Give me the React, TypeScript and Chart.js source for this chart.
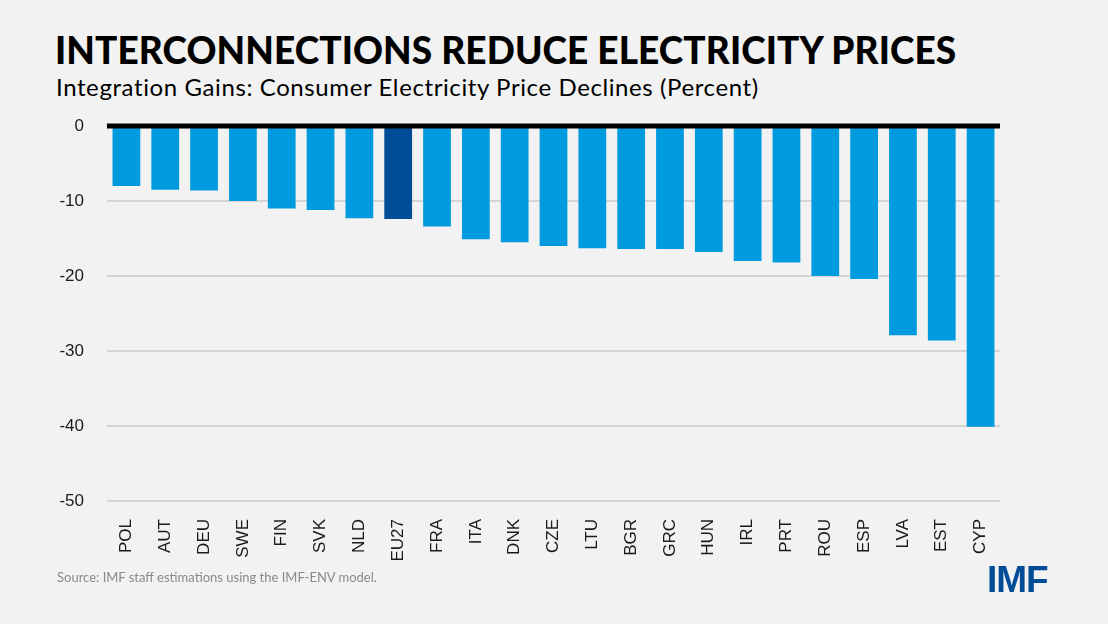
import React, { useEffect, useRef } from "react";
import { Chart, registerables } from "chart.js";

Chart.register(...registerables);

const countries = [
  "POL", "AUT", "DEU", "SWE", "FIN", "SVK", "NLD", "EU27", "FRA", "ITA", "DNK", "CZE",
  "LTU", "BGR", "GRC", "HUN", "IRL", "PRT", "ROU", "ESP", "LVA", "EST", "CYP",
];

const priceDecline = [
  -8.0, -8.5, -8.6, -10.0, -11.0, -11.2, -12.3, -12.4, -13.4, -15.1, -15.5, -16.0,
  -16.3, -16.4, -16.4, -16.8, -18.0, -18.2, -20.0, -20.4, -27.9, -28.6, -40.1,
];

const highlighted = ["EU27"];

const yTicks = [0, -10, -20, -30, -40, -50];

const BAR_BLUE = "#009bde";
const DARK_BLUE = "#004c97";

// Heavy black baseline at zero, drawn over the bars
const zeroLine = {
  id: "zeroLine",
  afterDatasetsDraw(chart: any) {
    const { ctx, chartArea, scales } = chart;
    const y = scales.y.getPixelForValue(0);
    ctx.save();
    ctx.strokeStyle = "#000";
    ctx.lineWidth = 5;
    ctx.beginPath();
    ctx.moveTo(chartArea.left, y);
    ctx.lineTo(chartArea.right, y);
    ctx.stroke();
    ctx.restore();
  },
};

export default function App() {
  const canvasRef = useRef<HTMLCanvasElement | null>(null);

  useEffect(() => {
    const canvas = canvasRef.current;
    if (!canvas) return;
    const chart = new Chart(canvas, {
      type: "bar",
      data: {
        labels: countries,
        datasets: [
          {
            data: priceDecline,
            backgroundColor: countries.map((c) => (highlighted.includes(c) ? DARK_BLUE : BAR_BLUE)),
            borderWidth: 0,
            barPercentage: 0.715,
            categoryPercentage: 1,
          },
        ],
      },
      options: {
        responsive: false,
        animation: false,
        devicePixelRatio: 1,
        layout: { padding: { top: 126, right: 108, left: 0, bottom: 0 } },
        plugins: {
          legend: { display: false },
          tooltip: { enabled: false },
        },
        scales: {
          x: {
            grid: { display: false },
            border: { display: false },
            ticks: {
              minRotation: 90,
              maxRotation: 90,
              autoSkip: false,
              padding: 10,
              color: "#1a1a1a",
              font: { family: "'Liberation Sans', Arial, sans-serif", size: 17 },
            },
            afterFit(scale: any) {
              scale.height = 123;
            },
          },
          y: {
            min: -50,
            max: 0,
            afterBuildTicks(scale: any) {
              scale.ticks = yTicks.map((v) => ({ value: v }));
            },
            grid: {
              drawTicks: false,
              lineWidth: 2,
              color: (ctx: any) => (ctx.tick && ctx.tick.value === 0 ? "rgba(0,0,0,0)" : "#d4d4d4"),
            },
            border: { display: false },
            ticks: {
              padding: 23,
              color: "#1a1a1a",
              font: { family: "'Liberation Sans', Arial, sans-serif", size: 17 },
              callback: (v: any) => String(v),
            },
            afterFit(scale: any) {
              scale.width = 107;
            },
          },
        },
      },
      plugins: [zeroLine],
    });
    return () => chart.destroy();
  }, []);

  return (
    <div
      style={{
        position: "fixed",
        left: 0,
        top: 0,
        width: 1108,
        height: 624,
        background: "#f2f2f2",
        overflow: "hidden",
      }}
    >
      <div
        style={{
          position: "absolute",
          left: 55,
          top: 31,
          fontFamily: "Lato, 'Open Sans', sans-serif",
          fontWeight: 900,
          fontSize: 37,
          lineHeight: 1,
          letterSpacing: 0.1,
          color: "#000",
          whiteSpace: "nowrap",
        }}
      >
        INTERCONNECTIONS REDUCE ELECTRICITY PRICES
      </div>
      <div
        style={{
          position: "absolute",
          left: 56,
          top: 75,
          fontFamily: "Lato, 'Open Sans', sans-serif",
          fontWeight: 400,
          fontSize: 24,
          lineHeight: 1,
          letterSpacing: 0.6,
          color: "#000",
          whiteSpace: "nowrap",
        }}
      >
        Integration Gains: Consumer Electricity Price Declines (Percent)
      </div>
      <canvas
        ref={canvasRef}
        width={1108}
        height={624}
        style={{ position: "absolute", left: 0, top: 0, width: 1108, height: 624 }}
      />
      <div
        style={{
          position: "absolute",
          left: 57,
          top: 571,
          fontFamily: "Lato, 'Open Sans', sans-serif",
          fontSize: 13,
          lineHeight: 1,
          color: "#8a8a8a",
          whiteSpace: "nowrap",
        }}
      >
        Source: IMF staff estimations using the IMF-ENV model.
      </div>
      <div
        style={{
          position: "absolute",
          left: 987,
          top: 561,
          fontFamily: "'Liberation Sans', Arial, sans-serif",
          fontWeight: 700,
          fontSize: 37,
          lineHeight: 1,
          letterSpacing: -1,
          color: DARK_BLUE,
          whiteSpace: "nowrap",
        }}
      >
        IMF
      </div>
    </div>
  );
}
